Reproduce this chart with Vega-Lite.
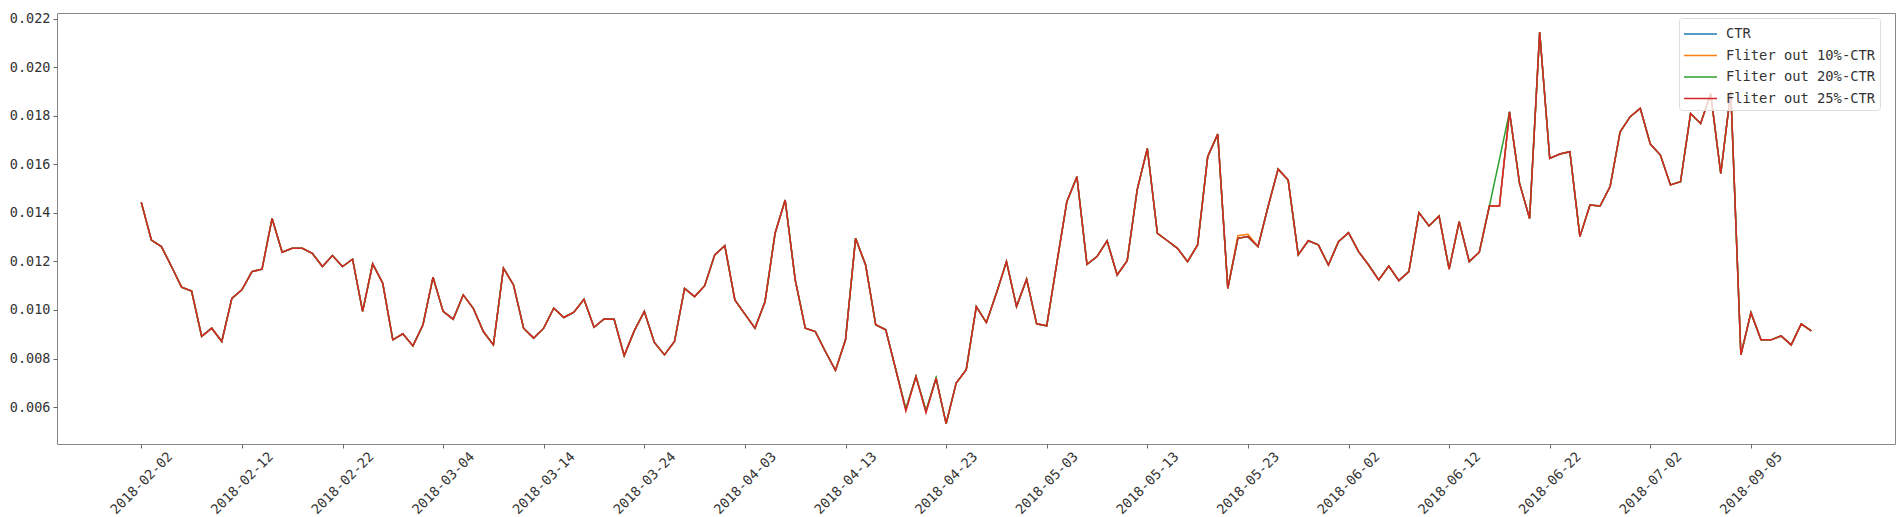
{
  "$schema": "https://vega.github.io/schema/vega-lite/v6.json",
  "width": 1838,
  "height": 431,
  "autosize": {"type": "none"},
  "padding": {"left": 57, "top": 13, "right": 7, "bottom": 73},
  "background": "white",
  "config": {
    "view": {"stroke": "#888888", "strokeWidth": 1},
    "axis": {"grid": false, "domain": false, "tickColor": "#666666", "tickSize": 4, "tickWidth": 1,
             "labelFont": "DejaVu Sans Mono", "labelColor": "#333333", "labelFontSize": 13.5, "title": null}
  },
  "data": {"values": [
    {"date":"2018-02-02","CTR":0.01443,"Fliter out 10%-CTR":0.01443,"Fliter out 20%-CTR":0.01443,"Fliter out 25%-CTR":0.01443},
    {"date":"2018-02-03","CTR":0.01288,"Fliter out 10%-CTR":0.01288,"Fliter out 20%-CTR":0.01288,"Fliter out 25%-CTR":0.01288},
    {"date":"2018-02-04","CTR":0.01261,"Fliter out 10%-CTR":0.01261,"Fliter out 20%-CTR":0.01261,"Fliter out 25%-CTR":0.01261},
    {"date":"2018-02-05","CTR":0.01179,"Fliter out 10%-CTR":0.01179,"Fliter out 20%-CTR":0.01179,"Fliter out 25%-CTR":0.01179},
    {"date":"2018-02-06","CTR":0.01094,"Fliter out 10%-CTR":0.01094,"Fliter out 20%-CTR":0.01094,"Fliter out 25%-CTR":0.01094},
    {"date":"2018-02-07","CTR":0.01078,"Fliter out 10%-CTR":0.01078,"Fliter out 20%-CTR":0.01078,"Fliter out 25%-CTR":0.01078},
    {"date":"2018-02-08","CTR":0.00891,"Fliter out 10%-CTR":0.00891,"Fliter out 20%-CTR":0.00891,"Fliter out 25%-CTR":0.00891},
    {"date":"2018-02-09","CTR":0.00925,"Fliter out 10%-CTR":0.00925,"Fliter out 20%-CTR":0.00925,"Fliter out 25%-CTR":0.00925},
    {"date":"2018-02-10","CTR":0.00870,"Fliter out 10%-CTR":0.00870,"Fliter out 20%-CTR":0.00870,"Fliter out 25%-CTR":0.00870},
    {"date":"2018-02-11","CTR":0.01048,"Fliter out 10%-CTR":0.01048,"Fliter out 20%-CTR":0.01048,"Fliter out 25%-CTR":0.01048},
    {"date":"2018-02-12","CTR":0.01083,"Fliter out 10%-CTR":0.01083,"Fliter out 20%-CTR":0.01083,"Fliter out 25%-CTR":0.01083},
    {"date":"2018-02-13","CTR":0.01158,"Fliter out 10%-CTR":0.01158,"Fliter out 20%-CTR":0.01158,"Fliter out 25%-CTR":0.01158},
    {"date":"2018-02-14","CTR":0.01168,"Fliter out 10%-CTR":0.01168,"Fliter out 20%-CTR":0.01168,"Fliter out 25%-CTR":0.01168},
    {"date":"2018-02-15","CTR":0.01377,"Fliter out 10%-CTR":0.01377,"Fliter out 20%-CTR":0.01377,"Fliter out 25%-CTR":0.01377},
    {"date":"2018-02-16","CTR":0.01238,"Fliter out 10%-CTR":0.01238,"Fliter out 20%-CTR":0.01238,"Fliter out 25%-CTR":0.01238},
    {"date":"2018-02-17","CTR":0.01254,"Fliter out 10%-CTR":0.01254,"Fliter out 20%-CTR":0.01254,"Fliter out 25%-CTR":0.01254},
    {"date":"2018-02-18","CTR":0.01254,"Fliter out 10%-CTR":0.01254,"Fliter out 20%-CTR":0.01254,"Fliter out 25%-CTR":0.01254},
    {"date":"2018-02-19","CTR":0.01233,"Fliter out 10%-CTR":0.01233,"Fliter out 20%-CTR":0.01233,"Fliter out 25%-CTR":0.01233},
    {"date":"2018-02-20","CTR":0.01179,"Fliter out 10%-CTR":0.01179,"Fliter out 20%-CTR":0.01179,"Fliter out 25%-CTR":0.01179},
    {"date":"2018-02-21","CTR":0.01224,"Fliter out 10%-CTR":0.01224,"Fliter out 20%-CTR":0.01224,"Fliter out 25%-CTR":0.01224},
    {"date":"2018-02-22","CTR":0.01179,"Fliter out 10%-CTR":0.01179,"Fliter out 20%-CTR":0.01179,"Fliter out 25%-CTR":0.01179},
    {"date":"2018-02-23","CTR":0.01209,"Fliter out 10%-CTR":0.01209,"Fliter out 20%-CTR":0.01209,"Fliter out 25%-CTR":0.01209},
    {"date":"2018-02-24","CTR":0.00994,"Fliter out 10%-CTR":0.00994,"Fliter out 20%-CTR":0.00994,"Fliter out 25%-CTR":0.00994},
    {"date":"2018-02-25","CTR":0.01190,"Fliter out 10%-CTR":0.01190,"Fliter out 20%-CTR":0.01190,"Fliter out 25%-CTR":0.01190},
    {"date":"2018-02-26","CTR":0.01110,"Fliter out 10%-CTR":0.01110,"Fliter out 20%-CTR":0.01110,"Fliter out 25%-CTR":0.01110},
    {"date":"2018-02-27","CTR":0.00877,"Fliter out 10%-CTR":0.00877,"Fliter out 20%-CTR":0.00877,"Fliter out 25%-CTR":0.00877},
    {"date":"2018-02-28","CTR":0.00902,"Fliter out 10%-CTR":0.00902,"Fliter out 20%-CTR":0.00902,"Fliter out 25%-CTR":0.00902},
    {"date":"2018-03-01","CTR":0.00852,"Fliter out 10%-CTR":0.00852,"Fliter out 20%-CTR":0.00852,"Fliter out 25%-CTR":0.00852},
    {"date":"2018-03-02","CTR":0.00939,"Fliter out 10%-CTR":0.00939,"Fliter out 20%-CTR":0.00939,"Fliter out 25%-CTR":0.00939},
    {"date":"2018-03-03","CTR":0.01135,"Fliter out 10%-CTR":0.01135,"Fliter out 20%-CTR":0.01135,"Fliter out 25%-CTR":0.01135},
    {"date":"2018-03-04","CTR":0.00994,"Fliter out 10%-CTR":0.00994,"Fliter out 20%-CTR":0.00994,"Fliter out 25%-CTR":0.00994},
    {"date":"2018-03-05","CTR":0.00962,"Fliter out 10%-CTR":0.00962,"Fliter out 20%-CTR":0.00962,"Fliter out 25%-CTR":0.00962},
    {"date":"2018-03-06","CTR":0.01062,"Fliter out 10%-CTR":0.01062,"Fliter out 20%-CTR":0.01062,"Fliter out 25%-CTR":0.01062},
    {"date":"2018-03-07","CTR":0.01007,"Fliter out 10%-CTR":0.01007,"Fliter out 20%-CTR":0.01007,"Fliter out 25%-CTR":0.01007},
    {"date":"2018-03-08","CTR":0.00911,"Fliter out 10%-CTR":0.00911,"Fliter out 20%-CTR":0.00911,"Fliter out 25%-CTR":0.00911},
    {"date":"2018-03-09","CTR":0.00856,"Fliter out 10%-CTR":0.00856,"Fliter out 20%-CTR":0.00856,"Fliter out 25%-CTR":0.00856},
    {"date":"2018-03-10","CTR":0.01172,"Fliter out 10%-CTR":0.01172,"Fliter out 20%-CTR":0.01172,"Fliter out 25%-CTR":0.01172},
    {"date":"2018-03-11","CTR":0.01103,"Fliter out 10%-CTR":0.01103,"Fliter out 20%-CTR":0.01103,"Fliter out 25%-CTR":0.01103},
    {"date":"2018-03-12","CTR":0.00925,"Fliter out 10%-CTR":0.00925,"Fliter out 20%-CTR":0.00925,"Fliter out 25%-CTR":0.00925},
    {"date":"2018-03-13","CTR":0.00884,"Fliter out 10%-CTR":0.00884,"Fliter out 20%-CTR":0.00884,"Fliter out 25%-CTR":0.00884},
    {"date":"2018-03-14","CTR":0.00925,"Fliter out 10%-CTR":0.00925,"Fliter out 20%-CTR":0.00925,"Fliter out 25%-CTR":0.00925},
    {"date":"2018-03-15","CTR":0.01007,"Fliter out 10%-CTR":0.01007,"Fliter out 20%-CTR":0.01007,"Fliter out 25%-CTR":0.01007},
    {"date":"2018-03-16","CTR":0.00969,"Fliter out 10%-CTR":0.00969,"Fliter out 20%-CTR":0.00969,"Fliter out 25%-CTR":0.00969},
    {"date":"2018-03-17","CTR":0.00991,"Fliter out 10%-CTR":0.00991,"Fliter out 20%-CTR":0.00991,"Fliter out 25%-CTR":0.00991},
    {"date":"2018-03-18","CTR":0.01044,"Fliter out 10%-CTR":0.01044,"Fliter out 20%-CTR":0.01044,"Fliter out 25%-CTR":0.01044},
    {"date":"2018-03-19","CTR":0.00929,"Fliter out 10%-CTR":0.00929,"Fliter out 20%-CTR":0.00929,"Fliter out 25%-CTR":0.00929},
    {"date":"2018-03-20","CTR":0.00963,"Fliter out 10%-CTR":0.00963,"Fliter out 20%-CTR":0.00963,"Fliter out 25%-CTR":0.00963},
    {"date":"2018-03-21","CTR":0.00962,"Fliter out 10%-CTR":0.00962,"Fliter out 20%-CTR":0.00962,"Fliter out 25%-CTR":0.00962},
    {"date":"2018-03-22","CTR":0.00812,"Fliter out 10%-CTR":0.00812,"Fliter out 20%-CTR":0.00812,"Fliter out 25%-CTR":0.00812},
    {"date":"2018-03-23","CTR":0.00914,"Fliter out 10%-CTR":0.00914,"Fliter out 20%-CTR":0.00914,"Fliter out 25%-CTR":0.00914},
    {"date":"2018-03-24","CTR":0.00994,"Fliter out 10%-CTR":0.00994,"Fliter out 20%-CTR":0.00994,"Fliter out 25%-CTR":0.00994},
    {"date":"2018-03-25","CTR":0.00866,"Fliter out 10%-CTR":0.00866,"Fliter out 20%-CTR":0.00866,"Fliter out 25%-CTR":0.00866},
    {"date":"2018-03-26","CTR":0.00815,"Fliter out 10%-CTR":0.00815,"Fliter out 20%-CTR":0.00815,"Fliter out 25%-CTR":0.00815},
    {"date":"2018-03-27","CTR":0.00870,"Fliter out 10%-CTR":0.00870,"Fliter out 20%-CTR":0.00870,"Fliter out 25%-CTR":0.00870},
    {"date":"2018-03-28","CTR":0.01089,"Fliter out 10%-CTR":0.01089,"Fliter out 20%-CTR":0.01089,"Fliter out 25%-CTR":0.01089},
    {"date":"2018-03-29","CTR":0.01055,"Fliter out 10%-CTR":0.01055,"Fliter out 20%-CTR":0.01055,"Fliter out 25%-CTR":0.01055},
    {"date":"2018-03-30","CTR":0.01100,"Fliter out 10%-CTR":0.01100,"Fliter out 20%-CTR":0.01100,"Fliter out 25%-CTR":0.01100},
    {"date":"2018-03-31","CTR":0.01227,"Fliter out 10%-CTR":0.01227,"Fliter out 20%-CTR":0.01227,"Fliter out 25%-CTR":0.01227},
    {"date":"2018-04-01","CTR":0.01265,"Fliter out 10%-CTR":0.01265,"Fliter out 20%-CTR":0.01265,"Fliter out 25%-CTR":0.01265},
    {"date":"2018-04-02","CTR":0.01041,"Fliter out 10%-CTR":0.01041,"Fliter out 20%-CTR":0.01041,"Fliter out 25%-CTR":0.01041},
    {"date":"2018-04-03","CTR":0.00983,"Fliter out 10%-CTR":0.00983,"Fliter out 20%-CTR":0.00983,"Fliter out 25%-CTR":0.00983},
    {"date":"2018-04-04","CTR":0.00925,"Fliter out 10%-CTR":0.00925,"Fliter out 20%-CTR":0.00925,"Fliter out 25%-CTR":0.00925},
    {"date":"2018-04-05","CTR":0.01034,"Fliter out 10%-CTR":0.01034,"Fliter out 20%-CTR":0.01034,"Fliter out 25%-CTR":0.01034},
    {"date":"2018-04-06","CTR":0.01316,"Fliter out 10%-CTR":0.01316,"Fliter out 20%-CTR":0.01316,"Fliter out 25%-CTR":0.01316},
    {"date":"2018-04-07","CTR":0.01453,"Fliter out 10%-CTR":0.01453,"Fliter out 20%-CTR":0.01453,"Fliter out 25%-CTR":0.01453},
    {"date":"2018-04-08","CTR":0.01124,"Fliter out 10%-CTR":0.01124,"Fliter out 20%-CTR":0.01124,"Fliter out 25%-CTR":0.01124},
    {"date":"2018-04-09","CTR":0.00925,"Fliter out 10%-CTR":0.00925,"Fliter out 20%-CTR":0.00925,"Fliter out 25%-CTR":0.00925},
    {"date":"2018-04-10","CTR":0.00911,"Fliter out 10%-CTR":0.00911,"Fliter out 20%-CTR":0.00911,"Fliter out 25%-CTR":0.00911},
    {"date":"2018-04-11","CTR":0.00829,"Fliter out 10%-CTR":0.00829,"Fliter out 20%-CTR":0.00829,"Fliter out 25%-CTR":0.00829},
    {"date":"2018-04-12","CTR":0.00751,"Fliter out 10%-CTR":0.00751,"Fliter out 20%-CTR":0.00751,"Fliter out 25%-CTR":0.00751},
    {"date":"2018-04-13","CTR":0.00877,"Fliter out 10%-CTR":0.00877,"Fliter out 20%-CTR":0.00877,"Fliter out 25%-CTR":0.00877},
    {"date":"2018-04-14","CTR":0.01295,"Fliter out 10%-CTR":0.01295,"Fliter out 20%-CTR":0.01295,"Fliter out 25%-CTR":0.01295},
    {"date":"2018-04-15","CTR":0.01185,"Fliter out 10%-CTR":0.01185,"Fliter out 20%-CTR":0.01185,"Fliter out 25%-CTR":0.01185},
    {"date":"2018-04-16","CTR":0.00939,"Fliter out 10%-CTR":0.00939,"Fliter out 20%-CTR":0.00939,"Fliter out 25%-CTR":0.00939},
    {"date":"2018-04-17","CTR":0.00918,"Fliter out 10%-CTR":0.00918,"Fliter out 20%-CTR":0.00918,"Fliter out 25%-CTR":0.00918},
    {"date":"2018-04-18","CTR":0.00754,"Fliter out 10%-CTR":0.00754,"Fliter out 20%-CTR":0.00754,"Fliter out 25%-CTR":0.00754},
    {"date":"2018-04-19","CTR":0.00592,"Fliter out 10%-CTR":0.00592,"Fliter out 20%-CTR":0.00590,"Fliter out 25%-CTR":0.00584},
    {"date":"2018-04-20","CTR":0.00726,"Fliter out 10%-CTR":0.00726,"Fliter out 20%-CTR":0.00726,"Fliter out 25%-CTR":0.00726},
    {"date":"2018-04-21","CTR":0.00585,"Fliter out 10%-CTR":0.00585,"Fliter out 20%-CTR":0.00583,"Fliter out 25%-CTR":0.00577},
    {"date":"2018-04-22","CTR":0.00719,"Fliter out 10%-CTR":0.00719,"Fliter out 20%-CTR":0.00719,"Fliter out 25%-CTR":0.00719},
    {"date":"2018-04-23","CTR":0.00532,"Fliter out 10%-CTR":0.00532,"Fliter out 20%-CTR":0.00532,"Fliter out 25%-CTR":0.00532},
    {"date":"2018-04-24","CTR":0.00699,"Fliter out 10%-CTR":0.00699,"Fliter out 20%-CTR":0.00699,"Fliter out 25%-CTR":0.00699},
    {"date":"2018-04-25","CTR":0.00754,"Fliter out 10%-CTR":0.00754,"Fliter out 20%-CTR":0.00754,"Fliter out 25%-CTR":0.00754},
    {"date":"2018-04-26","CTR":0.01014,"Fliter out 10%-CTR":0.01014,"Fliter out 20%-CTR":0.01014,"Fliter out 25%-CTR":0.01014},
    {"date":"2018-04-27","CTR":0.00948,"Fliter out 10%-CTR":0.00948,"Fliter out 20%-CTR":0.00948,"Fliter out 25%-CTR":0.00948},
    {"date":"2018-04-28","CTR":0.01069,"Fliter out 10%-CTR":0.01069,"Fliter out 20%-CTR":0.01069,"Fliter out 25%-CTR":0.01069},
    {"date":"2018-04-29","CTR":0.01199,"Fliter out 10%-CTR":0.01199,"Fliter out 20%-CTR":0.01199,"Fliter out 25%-CTR":0.01199},
    {"date":"2018-04-30","CTR":0.01014,"Fliter out 10%-CTR":0.01014,"Fliter out 20%-CTR":0.01014,"Fliter out 25%-CTR":0.01014},
    {"date":"2018-05-01","CTR":0.01127,"Fliter out 10%-CTR":0.01127,"Fliter out 20%-CTR":0.01127,"Fliter out 25%-CTR":0.01127},
    {"date":"2018-05-02","CTR":0.00943,"Fliter out 10%-CTR":0.00943,"Fliter out 20%-CTR":0.00943,"Fliter out 25%-CTR":0.00943},
    {"date":"2018-05-03","CTR":0.00935,"Fliter out 10%-CTR":0.00935,"Fliter out 20%-CTR":0.00935,"Fliter out 25%-CTR":0.00935},
    {"date":"2018-05-04","CTR":0.01192,"Fliter out 10%-CTR":0.01192,"Fliter out 20%-CTR":0.01192,"Fliter out 25%-CTR":0.01192},
    {"date":"2018-05-05","CTR":0.01446,"Fliter out 10%-CTR":0.01446,"Fliter out 20%-CTR":0.01446,"Fliter out 25%-CTR":0.01446},
    {"date":"2018-05-06","CTR":0.01549,"Fliter out 10%-CTR":0.01549,"Fliter out 20%-CTR":0.01549,"Fliter out 25%-CTR":0.01549},
    {"date":"2018-05-07","CTR":0.01188,"Fliter out 10%-CTR":0.01188,"Fliter out 20%-CTR":0.01188,"Fliter out 25%-CTR":0.01188},
    {"date":"2018-05-08","CTR":0.01220,"Fliter out 10%-CTR":0.01220,"Fliter out 20%-CTR":0.01220,"Fliter out 25%-CTR":0.01220},
    {"date":"2018-05-09","CTR":0.01285,"Fliter out 10%-CTR":0.01285,"Fliter out 20%-CTR":0.01285,"Fliter out 25%-CTR":0.01285},
    {"date":"2018-05-10","CTR":0.01144,"Fliter out 10%-CTR":0.01144,"Fliter out 20%-CTR":0.01144,"Fliter out 25%-CTR":0.01144},
    {"date":"2018-05-11","CTR":0.01203,"Fliter out 10%-CTR":0.01203,"Fliter out 20%-CTR":0.01203,"Fliter out 25%-CTR":0.01203},
    {"date":"2018-05-12","CTR":0.01497,"Fliter out 10%-CTR":0.01497,"Fliter out 20%-CTR":0.01497,"Fliter out 25%-CTR":0.01497},
    {"date":"2018-05-13","CTR":0.01665,"Fliter out 10%-CTR":0.01665,"Fliter out 20%-CTR":0.01665,"Fliter out 25%-CTR":0.01665},
    {"date":"2018-05-14","CTR":0.01316,"Fliter out 10%-CTR":0.01316,"Fliter out 20%-CTR":0.01316,"Fliter out 25%-CTR":0.01316},
    {"date":"2018-05-15","CTR":0.01285,"Fliter out 10%-CTR":0.01285,"Fliter out 20%-CTR":0.01285,"Fliter out 25%-CTR":0.01285},
    {"date":"2018-05-16","CTR":0.01254,"Fliter out 10%-CTR":0.01254,"Fliter out 20%-CTR":0.01254,"Fliter out 25%-CTR":0.01254},
    {"date":"2018-05-17","CTR":0.01199,"Fliter out 10%-CTR":0.01199,"Fliter out 20%-CTR":0.01199,"Fliter out 25%-CTR":0.01199},
    {"date":"2018-05-18","CTR":0.01268,"Fliter out 10%-CTR":0.01268,"Fliter out 20%-CTR":0.01268,"Fliter out 25%-CTR":0.01268},
    {"date":"2018-05-19","CTR":0.01631,"Fliter out 10%-CTR":0.01631,"Fliter out 20%-CTR":0.01631,"Fliter out 25%-CTR":0.01631},
    {"date":"2018-05-20","CTR":0.01724,"Fliter out 10%-CTR":0.01724,"Fliter out 20%-CTR":0.01724,"Fliter out 25%-CTR":0.01724},
    {"date":"2018-05-21","CTR":0.01089,"Fliter out 10%-CTR":0.01089,"Fliter out 20%-CTR":0.01089,"Fliter out 25%-CTR":0.01089},
    {"date":"2018-05-22","CTR":0.01295,"Fliter out 10%-CTR":0.01306,"Fliter out 20%-CTR":0.01295,"Fliter out 25%-CTR":0.01295},
    {"date":"2018-05-23","CTR":0.01302,"Fliter out 10%-CTR":0.01312,"Fliter out 20%-CTR":0.01302,"Fliter out 25%-CTR":0.01302},
    {"date":"2018-05-24","CTR":0.01261,"Fliter out 10%-CTR":0.01261,"Fliter out 20%-CTR":0.01261,"Fliter out 25%-CTR":0.01261},
    {"date":"2018-05-25","CTR":0.01425,"Fliter out 10%-CTR":0.01425,"Fliter out 20%-CTR":0.01425,"Fliter out 25%-CTR":0.01425},
    {"date":"2018-05-26","CTR":0.01580,"Fliter out 10%-CTR":0.01580,"Fliter out 20%-CTR":0.01580,"Fliter out 25%-CTR":0.01580},
    {"date":"2018-05-27","CTR":0.01535,"Fliter out 10%-CTR":0.01535,"Fliter out 20%-CTR":0.01535,"Fliter out 25%-CTR":0.01535},
    {"date":"2018-05-28","CTR":0.01227,"Fliter out 10%-CTR":0.01227,"Fliter out 20%-CTR":0.01227,"Fliter out 25%-CTR":0.01227},
    {"date":"2018-05-29","CTR":0.01285,"Fliter out 10%-CTR":0.01285,"Fliter out 20%-CTR":0.01285,"Fliter out 25%-CTR":0.01285},
    {"date":"2018-05-30","CTR":0.01268,"Fliter out 10%-CTR":0.01268,"Fliter out 20%-CTR":0.01268,"Fliter out 25%-CTR":0.01268},
    {"date":"2018-05-31","CTR":0.01185,"Fliter out 10%-CTR":0.01185,"Fliter out 20%-CTR":0.01185,"Fliter out 25%-CTR":0.01185},
    {"date":"2018-06-01","CTR":0.01281,"Fliter out 10%-CTR":0.01281,"Fliter out 20%-CTR":0.01281,"Fliter out 25%-CTR":0.01281},
    {"date":"2018-06-02","CTR":0.01318,"Fliter out 10%-CTR":0.01318,"Fliter out 20%-CTR":0.01318,"Fliter out 25%-CTR":0.01318},
    {"date":"2018-06-03","CTR":0.01240,"Fliter out 10%-CTR":0.01240,"Fliter out 20%-CTR":0.01240,"Fliter out 25%-CTR":0.01240},
    {"date":"2018-06-04","CTR":0.01185,"Fliter out 10%-CTR":0.01185,"Fliter out 20%-CTR":0.01185,"Fliter out 25%-CTR":0.01185},
    {"date":"2018-06-05","CTR":0.01124,"Fliter out 10%-CTR":0.01124,"Fliter out 20%-CTR":0.01124,"Fliter out 25%-CTR":0.01124},
    {"date":"2018-06-06","CTR":0.01181,"Fliter out 10%-CTR":0.01181,"Fliter out 20%-CTR":0.01181,"Fliter out 25%-CTR":0.01181},
    {"date":"2018-06-07","CTR":0.01121,"Fliter out 10%-CTR":0.01121,"Fliter out 20%-CTR":0.01121,"Fliter out 25%-CTR":0.01121},
    {"date":"2018-06-08","CTR":0.01158,"Fliter out 10%-CTR":0.01158,"Fliter out 20%-CTR":0.01158,"Fliter out 25%-CTR":0.01158},
    {"date":"2018-06-09","CTR":0.01401,"Fliter out 10%-CTR":0.01401,"Fliter out 20%-CTR":0.01401,"Fliter out 25%-CTR":0.01401},
    {"date":"2018-06-10","CTR":0.01346,"Fliter out 10%-CTR":0.01346,"Fliter out 20%-CTR":0.01346,"Fliter out 25%-CTR":0.01346},
    {"date":"2018-06-11","CTR":0.01387,"Fliter out 10%-CTR":0.01387,"Fliter out 20%-CTR":0.01387,"Fliter out 25%-CTR":0.01387},
    {"date":"2018-06-12","CTR":0.01168,"Fliter out 10%-CTR":0.01168,"Fliter out 20%-CTR":0.01168,"Fliter out 25%-CTR":0.01168},
    {"date":"2018-06-13","CTR":0.01364,"Fliter out 10%-CTR":0.01364,"Fliter out 20%-CTR":0.01364,"Fliter out 25%-CTR":0.01364},
    {"date":"2018-06-14","CTR":0.01199,"Fliter out 10%-CTR":0.01199,"Fliter out 20%-CTR":0.01199,"Fliter out 25%-CTR":0.01199},
    {"date":"2018-06-15","CTR":0.01238,"Fliter out 10%-CTR":0.01238,"Fliter out 20%-CTR":0.01238,"Fliter out 25%-CTR":0.01238},
    {"date":"2018-06-16","CTR":0.01428,"Fliter out 10%-CTR":0.01428,"Fliter out 20%-CTR":0.01428,"Fliter out 25%-CTR":0.01428},
    {"date":"2018-06-17","CTR":0.01428,"Fliter out 10%-CTR":0.01428,"Fliter out 20%-CTR":0.01620,"Fliter out 25%-CTR":0.01428},
    {"date":"2018-06-18","CTR":0.01816,"Fliter out 10%-CTR":0.01816,"Fliter out 20%-CTR":0.01816,"Fliter out 25%-CTR":0.01816},
    {"date":"2018-06-19","CTR":0.01521,"Fliter out 10%-CTR":0.01521,"Fliter out 20%-CTR":0.01521,"Fliter out 25%-CTR":0.01521},
    {"date":"2018-06-20","CTR":0.01377,"Fliter out 10%-CTR":0.01377,"Fliter out 20%-CTR":0.01377,"Fliter out 25%-CTR":0.01377},
    {"date":"2018-06-21","CTR":0.02145,"Fliter out 10%-CTR":0.02145,"Fliter out 20%-CTR":0.02145,"Fliter out 25%-CTR":0.02145},
    {"date":"2018-06-22","CTR":0.01624,"Fliter out 10%-CTR":0.01624,"Fliter out 20%-CTR":0.01624,"Fliter out 25%-CTR":0.01624},
    {"date":"2018-06-23","CTR":0.01642,"Fliter out 10%-CTR":0.01642,"Fliter out 20%-CTR":0.01642,"Fliter out 25%-CTR":0.01642},
    {"date":"2018-06-24","CTR":0.01652,"Fliter out 10%-CTR":0.01652,"Fliter out 20%-CTR":0.01652,"Fliter out 25%-CTR":0.01652},
    {"date":"2018-06-25","CTR":0.01302,"Fliter out 10%-CTR":0.01302,"Fliter out 20%-CTR":0.01302,"Fliter out 25%-CTR":0.01302},
    {"date":"2018-06-26","CTR":0.01432,"Fliter out 10%-CTR":0.01432,"Fliter out 20%-CTR":0.01432,"Fliter out 25%-CTR":0.01432},
    {"date":"2018-06-27","CTR":0.01428,"Fliter out 10%-CTR":0.01428,"Fliter out 20%-CTR":0.01428,"Fliter out 25%-CTR":0.01428},
    {"date":"2018-06-28","CTR":0.01508,"Fliter out 10%-CTR":0.01508,"Fliter out 20%-CTR":0.01508,"Fliter out 25%-CTR":0.01508},
    {"date":"2018-06-29","CTR":0.01734,"Fliter out 10%-CTR":0.01734,"Fliter out 20%-CTR":0.01734,"Fliter out 25%-CTR":0.01734},
    {"date":"2018-06-30","CTR":0.01796,"Fliter out 10%-CTR":0.01796,"Fliter out 20%-CTR":0.01796,"Fliter out 25%-CTR":0.01796},
    {"date":"2018-07-01","CTR":0.01830,"Fliter out 10%-CTR":0.01830,"Fliter out 20%-CTR":0.01830,"Fliter out 25%-CTR":0.01830},
    {"date":"2018-07-02","CTR":0.01683,"Fliter out 10%-CTR":0.01683,"Fliter out 20%-CTR":0.01683,"Fliter out 25%-CTR":0.01683},
    {"date":"2018-07-03","CTR":0.01638,"Fliter out 10%-CTR":0.01638,"Fliter out 20%-CTR":0.01638,"Fliter out 25%-CTR":0.01638},
    {"date":"2018-07-04","CTR":0.01515,"Fliter out 10%-CTR":0.01515,"Fliter out 20%-CTR":0.01515,"Fliter out 25%-CTR":0.01515},
    {"date":"2018-07-05","CTR":0.01528,"Fliter out 10%-CTR":0.01528,"Fliter out 20%-CTR":0.01528,"Fliter out 25%-CTR":0.01528},
    {"date":"2018-07-06","CTR":0.01809,"Fliter out 10%-CTR":0.01809,"Fliter out 20%-CTR":0.01809,"Fliter out 25%-CTR":0.01809},
    {"date":"2018-07-07","CTR":0.01768,"Fliter out 10%-CTR":0.01768,"Fliter out 20%-CTR":0.01768,"Fliter out 25%-CTR":0.01768},
    {"date":"2018-07-08","CTR":0.01890,"Fliter out 10%-CTR":0.01890,"Fliter out 20%-CTR":0.01890,"Fliter out 25%-CTR":0.01890},
    {"date":"2018-07-09","CTR":0.01562,"Fliter out 10%-CTR":0.01562,"Fliter out 20%-CTR":0.01562,"Fliter out 25%-CTR":0.01562},
    {"date":"2018-07-10","CTR":0.01900,"Fliter out 10%-CTR":0.01900,"Fliter out 20%-CTR":0.01900,"Fliter out 25%-CTR":0.01900},
    {"date":"2018-09-04","CTR":0.00815,"Fliter out 10%-CTR":0.00815,"Fliter out 20%-CTR":0.00815,"Fliter out 25%-CTR":0.00815},
    {"date":"2018-09-05","CTR":0.00989,"Fliter out 10%-CTR":0.00989,"Fliter out 20%-CTR":0.00989,"Fliter out 25%-CTR":0.00989},
    {"date":"2018-09-06","CTR":0.00877,"Fliter out 10%-CTR":0.00877,"Fliter out 20%-CTR":0.00877,"Fliter out 25%-CTR":0.00877},
    {"date":"2018-09-07","CTR":0.00877,"Fliter out 10%-CTR":0.00877,"Fliter out 20%-CTR":0.00877,"Fliter out 25%-CTR":0.00877},
    {"date":"2018-09-08","CTR":0.00893,"Fliter out 10%-CTR":0.00893,"Fliter out 20%-CTR":0.00893,"Fliter out 25%-CTR":0.00893},
    {"date":"2018-09-09","CTR":0.00856,"Fliter out 10%-CTR":0.00856,"Fliter out 20%-CTR":0.00856,"Fliter out 25%-CTR":0.00856},
    {"date":"2018-09-10","CTR":0.00943,"Fliter out 10%-CTR":0.00943,"Fliter out 20%-CTR":0.00943,"Fliter out 25%-CTR":0.00943},
    {"date":"2018-09-11","CTR":0.00914,"Fliter out 10%-CTR":0.00914,"Fliter out 20%-CTR":0.00914,"Fliter out 25%-CTR":0.00914}
  ]},
  "transform": [
    {"fold": ["CTR", "Fliter out 10%-CTR", "Fliter out 20%-CTR", "Fliter out 25%-CTR"], "as": ["series", "ctr"]}
  ],
  "mark": {"type": "line", "strokeWidth": 1.5, "clip": true},
  "encoding": {
    "x": {
      "field": "date", "type": "ordinal",
      "scale": {"type": "point", "padding": 0, "range": [84.3, 1754.3]},
      "axis": {
        "values": ["2018-02-02","2018-02-12","2018-02-22","2018-03-04","2018-03-14","2018-03-24","2018-04-03","2018-04-13","2018-04-23","2018-05-03","2018-05-13","2018-05-23","2018-06-02","2018-06-12","2018-06-22","2018-07-02","2018-09-05"],
        "labelAngle": -45, "labelAlign": "center", "labelBaseline": "middle",
        "labelPadding": 35, "labelOverlap": false, "labelFlush": false, "labelBound": false
      }
    },
    "y": {
      "field": "ctr", "type": "quantitative",
      "scale": {"domain": [0.00448, 0.02223], "nice": false, "zero": false},
      "axis": {"values": [0.006, 0.008, 0.010, 0.012, 0.014, 0.016, 0.018, 0.020, 0.022], "format": ".3f", "labelPadding": 3}
    },
    "color": {
      "field": "series", "type": "nominal",
      "scale": {
        "domain": ["CTR", "Fliter out 10%-CTR", "Fliter out 20%-CTR", "Fliter out 25%-CTR"],
        "range": ["#1f77b4", "#ff7f0e", "#2ca02c", "#d62728"]
      },
      "legend": {
        "title": null, "orient": "none", "legendX": 1622, "legendY": 5, "direction": "vertical",
        "symbolType": "M-1,0H2", "symbolSize": 484, "symbolStrokeWidth": 1.5,
        "labelFont": "DejaVu Sans Mono", "labelFontSize": 13.75, "labelColor": "#333333",
        "labelOffset": 19, "rowPadding": 2.5, "padding": 4,
        "fillColor": "rgba(255,255,255,0.8)", "strokeColor": "#dddddd", "cornerRadius": 3
      }
    }
  }
}
